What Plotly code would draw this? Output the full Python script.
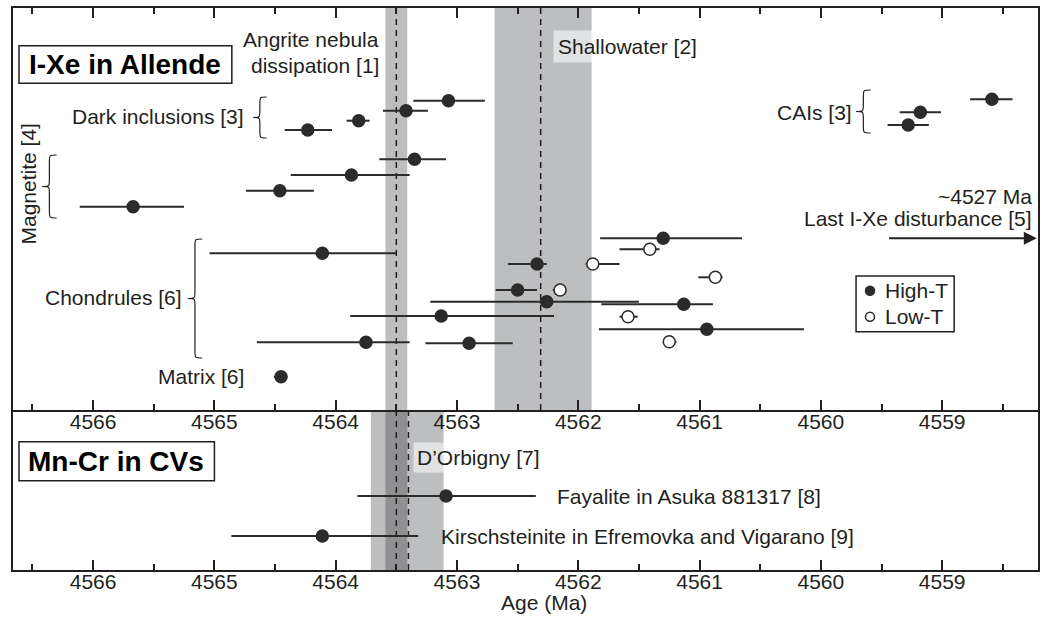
import plotly.graph_objects as go

# ---------------- data (ages in Ma) ----------------
# I-Xe in Allende -- high-temperature (filled) components
dark_age = [4563.07, 4563.42, 4563.81, 4564.23]
dark_err_old = [0.29, 0.19, 0.10, 0.19]
dark_err_young = [0.30, 0.18, 0.09, 0.20]
dark_row = [100.7, 110.7, 120.7, 130.0]

magnetite_age = [4563.35, 4563.87, 4564.46, 4565.67]
magnetite_err_old = [0.29, 0.50, 0.28, 0.44]
magnetite_err_young = [0.26, 0.48, 0.28, 0.42]
magnetite_row = [159.3, 175.0, 190.7, 206.7]

cai_age = [4558.59, 4559.18, 4559.28]
cai_err_old = [0.18, 0.17, 0.17]
cai_err_young = [0.17, 0.17, 0.17]
cai_row = [99.3, 112.3, 125.0]

chondrule_hi_age = [4564.11, 4561.30, 4562.34, 4562.50, 4562.26, 4561.13, 4563.13, 4560.94, 4562.90, 4563.75]
chondrule_hi_err_old = [0.93, 0.52, 0.24, 0.18, 0.96, 0.68, 0.75, 0.89, 0.36, 0.90]
chondrule_hi_err_young = [0.61, 0.65, 0.08, 0.16, 0.76, 0.24, 0.93, 0.80, 0.36, 0.36]
chondrule_hi_row = [253.3, 238.3, 264.0, 290.0, 301.7, 304.3, 316.0, 329.3, 343.3, 342.3]

matrix_age = [4564.45]
matrix_err_old = [0.06]
matrix_err_young = [0.05]
matrix_row = [376.7]

# low-temperature (open) chondrule components
chondrule_lo_age = [4561.41, 4561.88, 4560.87, 4562.15, 4561.59, 4561.25]
chondrule_lo_err_old = [0.25, 0.06, 0.14, 0.06, 0.07, 0.05]
chondrule_lo_err_young = [0.08, 0.22, 0.06, 0.03, 0.08, 0.06]
chondrule_lo_row = [249.3, 264.0, 277.3, 290.0, 316.7, 341.7]

# Mn-Cr in CVs
mncr_labels = ["Fayalite in Asuka 881317 [8]", "Kirschsteinite in Efremovka and Vigarano [9]"]
mncr_age = [4563.09, 4564.11]
mncr_err_old = [0.73, 0.75]
mncr_err_young = [0.74, 0.79]
mncr_row = [496.0, 536.0]

# reference bands (Ma)
angrite_band = [4563.59, 4563.41]
angrite_line = 4563.50
shallowater_band = [4562.69, 4561.89]
shallowater_line = 4562.31
dorbigny_band = [4563.71, 4563.11]
dorbigny_line = 4563.40
last_disturbance_start = 4559.45

legend_labels = ["High-T", "Low-T"]

x_range = [4566.66, 4558.21]
tick_values = [4566, 4565, 4564, 4563, 4562, 4561, 4560, 4559]

# ---------------- styling ----------------
FONT = "Liberation Sans, Arial, Helvetica, sans-serif"
INK = "#231f20"
DOT = "#2b2b2b"
BAND = "#bdbec0"
BAND_DARK = "#8f9092"
FS = 21

fig = go.Figure()


def add_points(x, e_old, e_young, y, filled, xa="x", ya="y"):
    fig.add_trace(go.Scatter(
        x=x, y=y, mode="markers", xaxis=xa, yaxis=ya,
        error_x=dict(type="data", symmetric=False, array=e_old, arrayminus=e_young,
                     color=DOT, thickness=2, width=0),
        marker=dict(size=12, color=DOT if filled else "white", line=dict(color=DOT, width=1.5)),
        showlegend=False, hoverinfo="skip"))


hi_age = dark_age + magnetite_age + cai_age + chondrule_hi_age + matrix_age
hi_old = dark_err_old + magnetite_err_old + cai_err_old + chondrule_hi_err_old + matrix_err_old
hi_young = dark_err_young + magnetite_err_young + cai_err_young + chondrule_hi_err_young + matrix_err_young
hi_row = dark_row + magnetite_row + cai_row + chondrule_hi_row + matrix_row

add_points(hi_age, hi_old, hi_young, hi_row, True)
add_points(chondrule_lo_age, chondrule_lo_err_old, chondrule_lo_err_young, chondrule_lo_row, False)
add_points(mncr_age, mncr_err_old, mncr_err_young, mncr_row, True, "x2", "y2")

shapes = []
# bands
shapes.append(dict(type="rect", xref="x", yref="y domain", x0=angrite_band[0], x1=angrite_band[1],
                   y0=0, y1=1, fillcolor=BAND, line=dict(width=0), layer="below"))
shapes.append(dict(type="rect", xref="x", yref="y domain", x0=shallowater_band[0], x1=shallowater_band[1],
                   y0=0, y1=1, fillcolor=BAND, line=dict(width=0), layer="below"))
shapes.append(dict(type="rect", xref="x2", yref="y2 domain", x0=dorbigny_band[0], x1=dorbigny_band[1],
                   y0=0, y1=1, fillcolor=BAND, line=dict(width=0), layer="below"))
shapes.append(dict(type="rect", xref="x2", yref="y2 domain", x0=angrite_band[0], x1=angrite_band[1],
                   y0=0, y1=1, fillcolor=BAND_DARK, line=dict(width=0), layer="below"))
# dashed lines
dash = dict(color=INK, width=1.5, dash="6px,5px")
shapes.append(dict(type="line", xref="x", yref="y domain", x0=angrite_line, x1=angrite_line,
                   y0=0, y1=1, line=dash, layer="below"))
shapes.append(dict(type="line", xref="x2", yref="y2 domain", x0=angrite_line, x1=angrite_line,
                   y0=0, y1=1, line=dash, layer="below"))
shapes.append(dict(type="line", xref="x", yref="y domain", x0=shallowater_line, x1=shallowater_line,
                   y0=0, y1=1, line=dash, layer="below"))
shapes.append(dict(type="line", xref="x2", yref="y2 domain", x0=dorbigny_line, x1=dorbigny_line,
                   y0=0, y1=1, line=dash, layer="below"))


def brace(tip, back, y0, y1, r):
    mid = (tip + back) / 2
    ym = (y0 + y1) / 2
    return (f"M {back},{y0} C {mid},{y0} {mid},{y0} {mid},{y0 + r} "
            f"L {mid},{ym - r} C {mid},{ym} {mid},{ym} {tip},{ym} "
            f"C {mid},{ym} {mid},{ym} {mid},{ym + r} "
            f"L {mid},{y1 - r} C {mid},{y1} {mid},{y1} {back},{y1}")


for tip, back, y0, y1 in [(4564.68, 4564.57, 97, 138),
                          (4566.42, 4566.30, 155, 218),
                          (4565.22, 4565.10, 239, 358),
                          (4559.71, 4559.59, 90, 133)]:
    shapes.append(dict(type="path", xref="x", yref="y", path=brace(tip, back, y0, y1, 7),
                       line=dict(color=INK, width=1.2)))

# title boxes
shapes.append(dict(type="rect", xref="paper", yref="y", x0=0.00584, x1=0.2135, y0=45.7, y1=83.3,
                   line=dict(color=INK, width=1.5), fillcolor="white"))
shapes.append(dict(type="rect", xref="paper", yref="y2", x0=0.00584, x1=0.1965, y0=441.7, y1=480.7,
                   line=dict(color=INK, width=1.5), fillcolor="white"))

# legend box with symbols
shapes.append(dict(type="rect", xref="paper", yref="y", x0=0.8225, x1=0.9182, y0=276, y1=331.7,
                   line=dict(color=INK, width=1.5), fillcolor="white"))
for yy, filled in [(290.7, True), (316.7, False)]:
    shapes.append(dict(type="circle", xref="paper", yref="y", xsizemode="pixel", ysizemode="pixel",
                       xanchor=0.8361, yanchor=yy, x0=-4.5, x1=4.5, y0=-4.5, y1=4.5,
                       fillcolor=DOT if filled else "white", line=dict(color=DOT, width=1.5)))

f = dict(family=FONT, size=FS, color=INK)
fb = dict(family=FONT, size=28, color="#000000")


def txt(text, x, y, xanchor="center", xref="x", yref="y", **kw):
    d = dict(text=text, x=x, y=y, xref=xref, yref=yref, xanchor=xanchor, yanchor="middle",
             showarrow=False, font=kw.pop("font", f))
    d.update(kw)
    return d


ann = [
    txt("Angrite nebula", 4563.63, 39.3, "right"),
    txt("dissipation [1]", 4563.63, 65.0, "right"),
    txt("Shallowater [2]", 4562.21, 46.0, "left", bgcolor="rgba(255,255,255,0.55)", borderpad=4),
    txt("Dark inclusions [3]", 4564.74, 116.7, "right"),
    txt("CAIs [3]", 4559.73, 112.3, "right"),
    txt("Chondrules [6]", 4565.25, 297.3, "right"),
    txt("Matrix [6]", 4564.74, 376.0, "right"),
    txt("Magnetite [4]", 0.0156, 183.5, "center", xref="paper", textangle=-90),
    txt("~4527 Ma", 0.9961, 196.0, "right", xref="paper"),
    txt("Last I-Xe disturbance [5]", 0.9961, 218.3, "right", xref="paper"),
    txt("<b>I-Xe in Allende</b>", 0.1097, 64.5, "center", xref="paper", font=fb),
    txt("<b>Mn-Cr in CVs</b>", 0.1005, 461.0, "center", xref="paper", yref="y2", font=fb),
    txt("D\u2019Orbigny [7]", 4563.36, 457.3, "left", xref="x2", yref="y2",
        bgcolor="rgba(255,255,255,0.55)", borderpad=3),
    txt(mncr_labels[0], 4562.19, mncr_row[0], "left", xref="x2", yref="y2"),
    txt(mncr_labels[1], 4563.15, mncr_row[1], "left", xref="x2", yref="y2"),
    txt(legend_labels[0], 0.8484, 290.7, "left", xref="paper"),
    txt(legend_labels[1], 0.8484, 316.7, "left", xref="paper"),
    txt("Age (Ma)", 0.518, -0.0582, "center", xref="paper", yref="paper"),
    dict(x=x_range[1] + 0.01, y=238.3, xref="x", yref="y", ax=last_disturbance_start, ay=238.3,
         axref="x", ayref="y", showarrow=True, arrowhead=2, arrowsize=1.3, arrowwidth=2,
         arrowcolor=INK, text=""),
]

xcommon = dict(range=x_range, tickmode="array", tickvals=tick_values, ticks="inside", ticklen=10,
               tickwidth=1.5, tickcolor=INK, showline=True, linecolor=INK, linewidth=2,
               showgrid=False, zeroline=False, tickfont=dict(family=FONT, size=FS, color=INK),
               ticklabelstandoff=-8,
               minor=dict(tickmode="array",
                          tickvals=[v + 0.5 for v in tick_values] + [tick_values[0] + 0.5, 4558.5],
                          ticks="inside", ticklen=6, tickwidth=1.5, tickcolor=INK, showgrid=False))
ycommon = dict(showline=True, linecolor=INK, linewidth=2, mirror=True, showgrid=False,
               zeroline=False, showticklabels=False, ticks="")

split = 160 / 562
fig.update_layout(
    width=1045, height=621,
    margin=dict(l=13, r=5, t=8, b=51),
    paper_bgcolor="white", plot_bgcolor="white",
    font=dict(family=FONT, size=FS, color=INK),
    xaxis=dict(anchor="y", mirror="allticks", **xcommon),
    xaxis2=dict(anchor="y2", mirror=False, matches="x", **xcommon),
    yaxis=dict(domain=[split, 1], range=[410, 8], anchor="x", **ycommon),
    yaxis2=dict(domain=[0, split], range=[570, 410], anchor="x2", **ycommon),
    shapes=shapes, annotations=ann,
    showlegend=False,
)

fig.write_html("out.html")
